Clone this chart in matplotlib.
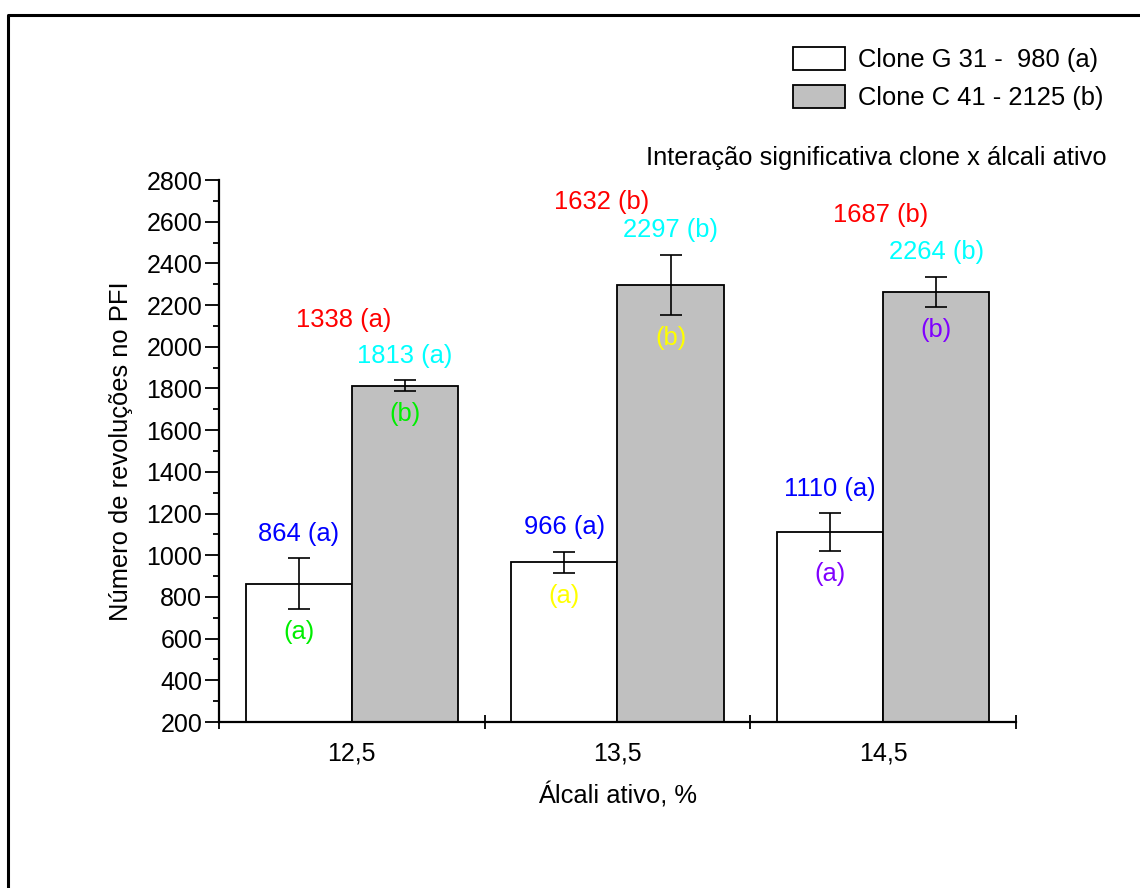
import matplotlib
matplotlib.use('Agg')
import matplotlib.pyplot as plt
import numpy as np
from matplotlib.lines import Line2D

plt.rcParams['font.family'] = ['Liberation Sans', 'DejaVu Sans']

# data
categories = ['12,5', '13,5', '14,5']
clone_g = [864, 966, 1110]
clone_g_err = [122, 50, 92]
clone_c = [1813, 2297, 2264]
clone_c_err = [26, 143, 73]

g_labels = ['864 (a)', '966 (a)', '1110 (a)']
c_labels = ['1813 (a)', '2297 (b)', '2264 (b)']
mean_labels = ['1338 (a)', '1632 (b)', '1687 (b)']
g_letters = ['(a)', '(a)', '(a)']
c_letters = ['(b)', '(b)', '(b)']
letter_colors = ['#00ee00', '#ffff00', '#8000ff']

# text placement (y, data units)
mean_label_y = [2128, 2694, 2632]
mean_label_dx = [-0.03, -0.06, -0.01]
above_off = 118
below_off = 110

fs = 18.4

fig = plt.figure(figsize=(11.4, 8.88), dpi=100)
ax = fig.add_axes([219/1140, 1 - 722/888, (1016 - 219)/1140, (722 - 180)/888])

x = np.arange(len(categories))
w = 0.4
ax.bar(x - w/2, clone_g, w, color='white', edgecolor='black', linewidth=1.3,
       label='Clone G 31 -  980 (a)', zorder=2)
ax.bar(x + w/2, clone_c, w, color='#c0c0c0', edgecolor='black', linewidth=1.3,
       label='Clone C 41 - 2125 (b)', zorder=2)
ax.errorbar(x - w/2, clone_g, yerr=clone_g_err, fmt='none', ecolor='black',
            elinewidth=1.2, capsize=8, capthick=1.2, zorder=3)
ax.errorbar(x + w/2, clone_c, yerr=clone_c_err, fmt='none', ecolor='black',
            elinewidth=1.2, capsize=8, capthick=1.2, zorder=3)

for i in range(len(categories)):
    ax.text(x[i] - w/2, clone_g[i] + clone_g_err[i] + above_off, g_labels[i],
            color='#0000ff', fontsize=fs, ha='center', va='center')
    ax.text(x[i] + w/2, clone_c[i] + clone_c_err[i] + above_off, c_labels[i],
            color='#00ffff', fontsize=fs, ha='center', va='center')
    ax.text(x[i] + mean_label_dx[i], mean_label_y[i], mean_labels[i],
            color='#ff0000', fontsize=fs, ha='center', va='center')
    ax.text(x[i] - w/2, clone_g[i] - clone_g_err[i] - below_off, g_letters[i],
            color=letter_colors[i], fontsize=fs, ha='center', va='center')
    ax.text(x[i] + w/2, clone_c[i] - clone_c_err[i] - below_off, c_letters[i],
            color=letter_colors[i], fontsize=fs, ha='center', va='center')

ax.set_xlim(-0.5, 2.5)
ax.set_ylim(200, 2800)
ax.set_yticks(np.arange(200, 2801, 200))
ax.set_yticks(np.arange(300, 2800, 200), minor=True)
ax.set_xticks([-0.5, 0.5, 1.5, 2.5])
ax.set_xticklabels([])
ax.set_xticks(x, minor=True)
ax.set_xticklabels(categories, minor=True)
ax.tick_params(axis='y', which='major', direction='out', length=10, width=1.3,
               labelsize=18, pad=2)
ax.tick_params(axis='y', which='minor', direction='out', length=4.5, width=1.3)
ax.tick_params(axis='x', which='major', direction='inout', length=10, width=1.3)
ax.tick_params(axis='x', which='minor', length=0, labelsize=18, pad=14)

for s in ['top', 'right']:
    ax.spines[s].set_visible(False)
for s in ['left', 'bottom']:
    ax.spines[s].set_linewidth(1.6)
    ax.spines[s].set_zorder(4)

ax.set_xlabel('Álcali ativo, %', fontsize=fs, labelpad=12)
ax.set_ylabel('Número de revoluções no PFI', fontsize=fs, labelpad=10)

ax.legend(loc='upper left', bbox_to_anchor=(793/1140, 1 - 47/888),
          bbox_transform=fig.transFigure, frameon=False, fontsize=fs,
          handlelength=2.05, handleheight=1.0, handletextpad=0.5,
          labelspacing=0.5, borderpad=0, borderaxespad=0)

fig.text(1107/1140, 1 - 158/888, 'Interação significativa clone x álcali ativo',
         fontsize=fs, ha='right', va='center')

# frame around the figure
fig.add_artist(Line2D([8/1140, 8/1140, 1.0], [0.0, 1 - 15/888, 1 - 15/888],
                      transform=fig.transFigure, color='black', linewidth=2.2))

fig.savefig('out.png', dpi=100)
